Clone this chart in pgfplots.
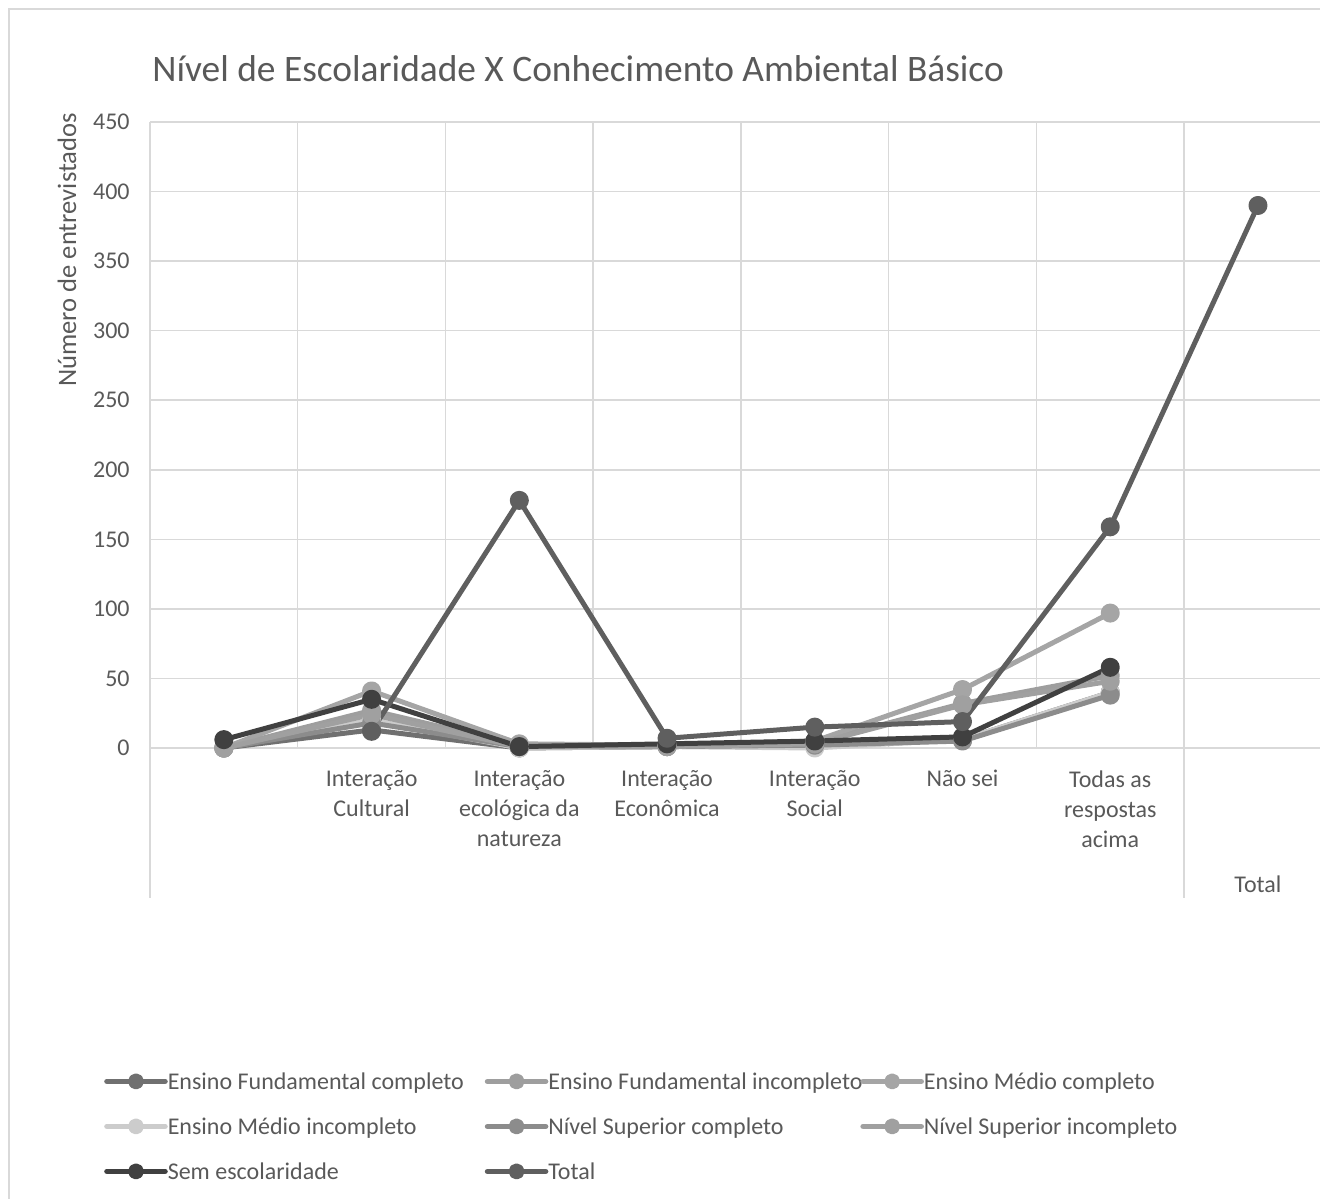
\documentclass[border=0pt]{standalone}
\usepackage{pgfplots}
\pgfplotsset{compat=1.18}
\usepackage{fontspec}
\setmainfont{Carlito}
\definecolor{textgray}{HTML}{595959}
\definecolor{gridgray}{HTML}{D9D9D9}
\definecolor{cEFc}{HTML}{707070}
\definecolor{cEFi}{HTML}{9E9E9E}
\definecolor{cEMc}{HTML}{A5A5A5}
\definecolor{cEMi}{HTML}{CCCCCC}
\definecolor{cNSc}{HTML}{8C8C8C}
\definecolor{cNSi}{HTML}{A0A0A0}
\definecolor{cSem}{HTML}{404040}
\definecolor{cTot}{HTML}{5F5F5F}
\begin{document}
\begin{tikzpicture}[x=1pt,y=1pt]
\useasboundingbox (0,0) rectangle (660,599);
\draw[gridgray, line width=0.75pt] (4.5,-10) -- (4.5,594.5) -- (670,594.5);
\node[anchor=base west, text=textgray, font=\fontsize{18.7}{22}\selectfont, inner sep=0pt] at (76,558) {Nível de Escolaridade X Conhecimento Ambiental Básico};
\node[rotate=90, text=textgray, font=\fontsize{13.3}{16}\selectfont] at (33.5,474) {Número de entrevistados};
\begin{axis}[
  at={(75pt,225pt)}, anchor=south west, scale only axis,
  width=585pt, height=313pt,
  xmin=-0.5, xmax=7.42, ymin=0, ymax=450,
  clip=false,
  axis line style={draw=none},
  ytick={0,50,...,450},
  ymajorgrids,
  grid style={gridgray, line width=0.75pt},
  xtick={1,2,3,4,5,6},
  xticklabels={{Interação\\Cultural},{Interação\\ecológica da\\natureza},{Interação\\Econômica},{Interação\\Social},{Não sei},{Todas as\\respostas\\acima}},
  minor xtick={0.5,1.5,2.5,3.5,4.5,5.5,6.5},
  xminorgrids,
  minor grid style={gridgray, line width=0.75pt},
  major tick length=0pt, minor tick length=0pt,
  tick style={draw=none},
  ticklabel style={text=textgray, font=\fontsize{12}{15}\selectfont},
  xticklabel style={align=center, anchor=north, inner sep=0pt, yshift=-11pt},
  yticklabel style={anchor=east, inner sep=0pt, xshift=-10pt},
  /pgf/number format/assume math mode=true,
  legend columns=3,
  legend style={draw=none, fill=none, at={(-0.0395,-0.516)}, anchor=north west, inner sep=0pt,
    row sep=10.5pt,
    nodes={inner sep=0pt, text=textgray, font=\fontsize{12}{15}\selectfont, text height=9pt, text depth=3pt},
    /tikz/every odd column/.append style={column sep=0pt},
    /tikz/every even column/.append style={column sep=0pt}},
  legend image code/.code={\draw[mark repeat=2, mark phase=2, #1, mark size=2.6pt, line width=2.8pt] plot coordinates {(0pt,1pt) (14.5pt,1pt) (29pt,1pt)};},
  every axis plot/.append style={line width=2.5pt, line join=round, line cap=round, mark=*, mark size=3.5pt, mark options={solid}},
]
\draw[gridgray, line width=0.75pt] (axis cs:-0.5,450) -- (axis cs:-0.5,-107.8);
\draw[gridgray, line width=0.75pt] (axis cs:6.5,0) -- (axis cs:6.5,-107.8);
\node[text=textgray, font=\fontsize{12}{15}\selectfont] at (axis cs:7,-97.8) {Total};

\addplot[color=cEFc] coordinates {(0,0)(1,13)(2,0)(3,1)(4,2)(5,6)(6,40)};
\addlegendentry{\makebox[158.5pt][l]{Ensino Fundamental completo}}
\addplot[color=cEFi] coordinates {(0,0)(1,27)(2,2)(3,2)(4,4)(5,32)(6,52)};
\addlegendentry{\makebox[156pt][l]{Ensino Fundamental incompleto}}
\addplot[color=cEMc] coordinates {(0,0)(1,41)(2,3)(3,2)(4,5)(5,42)(6,97)};
\addlegendentry{\makebox[150pt][l]{Ensino Médio completo}}
\addplot[color=cEMi] coordinates {(0,0)(1,20)(2,0)(3,1)(4,0)(5,6)(6,40)};
\addlegendentry{\makebox[158.5pt][l]{Ensino Médio incompleto}}
\addplot[color=cNSc] coordinates {(0,0)(1,18)(2,1)(3,1)(4,2)(5,5)(6,38)};
\addlegendentry{\makebox[156pt][l]{Nível Superior completo}}
\addplot[color=cNSi] coordinates {(0,0)(1,24)(2,1)(3,1)(4,3)(5,31)(6,48)};
\addlegendentry{\makebox[150pt][l]{Nível Superior incompleto}}
\addplot[color=cSem] coordinates {(0,6)(1,35)(2,1)(3,3)(4,5)(5,8)(6,58)};
\addlegendentry{\makebox[158.5pt][l]{Sem escolaridade}}
\addplot[color=cTot] coordinates {(1,12)(2,178)(3,7)(4,15)(5,19)(6,159)(7,390)};
\addlegendentry{\makebox[156pt][l]{Total}}
\end{axis}
\end{tikzpicture}
\end{document}
